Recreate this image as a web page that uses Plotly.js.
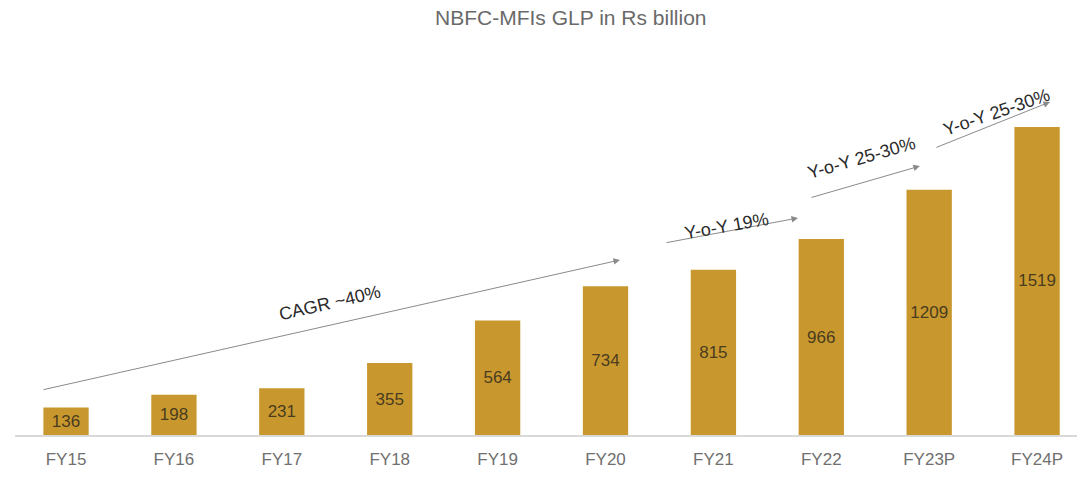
<!DOCTYPE html>
<html><head><meta charset="utf-8">
<script src="https://cdn.plot.ly/plotly-3.0.1.min.js"></script>
<style>html,body{margin:0;padding:0;background:#fff}#c{width:1077px;height:477px}</style>
</head><body><div id="c"></div>
<script>
const categories = ["FY15","FY16","FY17","FY18","FY19","FY20","FY21","FY22","FY23P","FY24P"];
const glp = [136,198,231,355,564,734,815,966,1209,1519];
const growthLabels = ["CAGR ~40%","Y-o-Y 19%","Y-o-Y 25-30%","Y-o-Y 25-30%"];

const xs = categories.map((c,i)=>i);
const trace = {
  type:'bar', x: xs, y: glp, text: glp.map(String),
  textposition:'inside', insidetextanchor:'middle', textangle:0, constraintext:'none',
  textfont:{family:'Liberation Sans, Arial, sans-serif', size:17, color:'#4a3c1e'},
  marker:{color:'#C8982F'}, width:0.42, hoverinfo:'skip', cliponaxis:false
};
const arrowStyle = {showarrow:true, text:'', axref:'x', ayref:'y', xref:'x', yref:'y',
  arrowhead:2, arrowsize:1.3, arrowwidth:1, arrowcolor:'#8a8a8a'};
const textStyle = {showarrow:false, xref:'x', yref:'y',
  font:{family:'Liberation Sans, Arial, sans-serif', size:18, color:'#2a2a2a'}};
const layout = {
  width:1077, height:477,
  margin:{l:15, r:0, t:60, b:42},
  paper_bgcolor:'#fff', plot_bgcolor:'#fff',
  title:{text:'NBFC-MFIs GLP in Rs billion', x:0.53, xanchor:'center', y:0.962, yanchor:'middle',
    font:{family:'Liberation Sans, Arial, sans-serif', size:21, color:'#6a6a6a'}},
  xaxis:{tickmode:'array', tickvals:xs, ticktext:categories, range:[-0.473,9.37],
    showgrid:false, zeroline:false, showline:true, linecolor:'#d9d9d9', linewidth:2,
    ticks:'outside', ticklen:8, tickcolor:'rgba(0,0,0,0)',
    tickfont:{family:'Liberation Sans, Arial, sans-serif', size:17, color:'#707070'}},
  yaxis:{range:[0,1849], visible:false, showgrid:false, zeroline:false},
  showlegend:false,
  annotations:[
    Object.assign({}, arrowStyle, {ax:-0.223, ay:222, x:5.134, y:863}),
    Object.assign({}, arrowStyle, {ax:5.551, ay:947, x:6.784, y:1070}),
    Object.assign({}, arrowStyle, {ax:6.895, ay:1169, x:7.914, y:1326}),
    Object.assign({}, arrowStyle, {ax:8.053, ay:1415, x:9.119, y:1642}),
    Object.assign({}, textStyle, {x:2.446, y:651, text:growthLabels[0], textangle:-13}),
    Object.assign({}, textStyle, {x:6.126, y:1031, text:growthLabels[1], textangle:-10}),
    Object.assign({}, textStyle, {x:7.368, y:1366, text:growthLabels[2], textangle:-16}),
    Object.assign({}, textStyle, {x:8.628, y:1593, text:growthLabels[3], textangle:-19})
  ]
};
Plotly.newPlot('c',[trace],layout,{displayModeBar:false, staticPlot:true});
</script></body></html>
